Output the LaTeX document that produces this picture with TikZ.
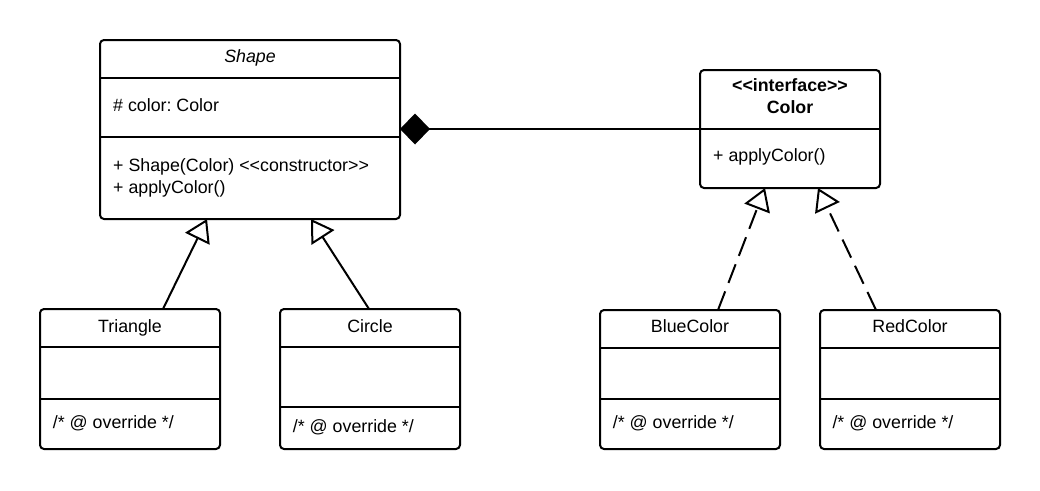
\documentclass[tikz,border=0pt]{standalone}
\usepackage{fontspec}
\setmainfont{Liberation Sans}
\usetikzlibrary{arrows.meta,calc}
\frenchspacing
\newcommand\umlfs{\fontsize{17.8}{21}\selectfont}
\tikzset{
  umlbox/.style={draw, line width=2pt, rounded corners=4pt, inner sep=0pt, outer sep=0pt, anchor=north west},
  txt/.style={inner sep=0pt, anchor=base west, font=\umlfs},
  ttl/.style={inner sep=0pt, anchor=base, font=\umlfs},
  divider/.style={line width=2pt},
  inherit/.style={line width=2pt, -{Triangle[open, length=22pt, width=27pt, fill=white]}},
  realize/.style={inherit, dash pattern=on 20pt off 9pt},
  compose/.style={line width=2pt, {Diamond[length=30pt, width=31pt]}-},
}
\begin{document}
\begin{tikzpicture}[x=1pt,y=-1pt]
\useasboundingbox (0,0) rectangle (1040,490);
% boxes
\node[umlbox, minimum width=300pt, minimum height=179pt] (shape) at (100,40) {};
\node[umlbox, minimum width=180pt, minimum height=118pt] (color) at (700,70) {};
\node[umlbox, minimum width=180pt, minimum height=140pt] (tri) at (40,309) {};
\node[umlbox, minimum width=180pt, minimum height=140pt] (circ) at (280,309) {};
\node[umlbox, minimum width=180pt, minimum height=139pt] (blue) at (600,310) {};
\node[umlbox, minimum width=180pt, minimum height=139pt] (red) at (820,310) {};
% dividers
\draw[divider] ($(shape.north west)+(0,37.5)$) -- ($(shape.north east)+(0,37.5)$);
\draw[divider] ($(shape.north west)+(0,96.5)$) -- ($(shape.north east)+(0,96.5)$);
\draw[divider] ($(color.north west)+(0,59)$) -- ($(color.north east)+(0,59)$);
\draw[divider] ($(tri.north west)+(0,38)$) -- ($(tri.north east)+(0,38)$);
\draw[divider] ($(tri.north west)+(0,90)$) -- ($(tri.north east)+(0,90)$);
\draw[divider] ($(circ.north west)+(0,38)$) -- ($(circ.north east)+(0,38)$);
\draw[divider] ($(circ.north west)+(0,98)$) -- ($(circ.north east)+(0,98)$);
\draw[divider] ($(blue.north west)+(0,38)$) -- ($(blue.north east)+(0,38)$);
\draw[divider] ($(blue.north west)+(0,89)$) -- ($(blue.north east)+(0,89)$);
\draw[divider] ($(red.north west)+(0,38)$) -- ($(red.north east)+(0,38)$);
\draw[divider] ($(red.north west)+(0,89)$) -- ($(red.north east)+(0,89)$);
% texts
\node[ttl, font=\umlfs\itshape] (shapeT) at ($(shape.north)+(0,22.3)$) {Shape};
\node[txt] (shapeA) at ($(shape.north west)+(13,71.7)$) {\# color: Color};
\node[txt] (shapeM1) at ($(shape.north west)+(13,131.7)$) {+ Shape(Color) <{}<constructor>{}>};
\node[txt] (shapeM2) at ($(shape.north west)+(13,153.3)$) {+ applyColor()};
\node[ttl, font=\umlfs\bfseries] (colorS) at ($(color.north)+(0,21.7)$) {<{}<interface>{}>};
\node[ttl, font=\umlfs\bfseries] (colorT) at ($(color.north)+(0,43.3)$) {Color};
\node[txt] (colorM) at ($(color.north west)+(13,91.7)$) {+ applyColor()};
\node[ttl] (triT) at ($(tri.north)+(0,23.7)$) {Triangle};
\node[txt] (triM) at ($(tri.north west)+(12.7,119.3)$) {/* @ override */};
\node[ttl] (circT) at ($(circ.north)+(0,23.7)$) {Circle};
\node[txt] (circM) at ($(circ.north west)+(12.7,123.7)$) {/* @ override */};
\node[ttl] (blueT) at ($(blue.north)+(0,22.7)$) {BlueColor};
\node[txt] (blueM) at ($(blue.north west)+(12.7,118.3)$) {/* @ override */};
\node[ttl] (redT) at ($(red.north)+(0,22.7)$) {RedColor};
\node[txt] (redM) at ($(red.north west)+(12.3,118.3)$) {/* @ override */};
% connectors
\draw[compose] ($(shape.north east)+(0,89)$) -- ($(color.north west)+(0,59)$);
\draw[inherit] ($(tri.north west)+(123,0)$) -- ($(shape.south west)+(107,0)$);
\draw[inherit] ($(circ.north west)+(89,0)$) -- ($(shape.south west)+(211,0)$);
\draw[realize] ($(blue.north west)+(118,0)$) -- ($(color.south west)+(65,0)$);
\draw[realize] ($(red.north west)+(56,0)$) -- ($(color.south west)+(118,0)$);
\end{tikzpicture}
\end{document}
